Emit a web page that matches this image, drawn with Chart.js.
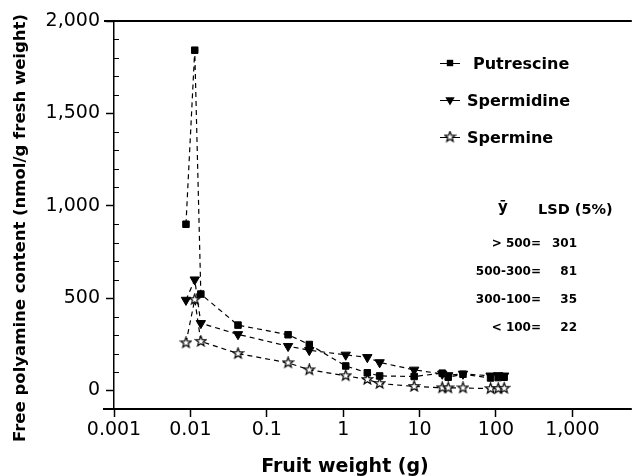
<!DOCTYPE html>
<html><head><meta charset="utf-8">
<script src="https://cdn.jsdelivr.net/npm/chart.js@4/dist/chart.umd.min.js"></script>
<style>html,body{margin:0;padding:0;background:#fff}</style>
</head><body>
<canvas id="c" width="639" height="476" style="width:639px;height:476px;display:block"></canvas>
<script>
// ---- data ----
const fruitWeight = [0.00875, 0.0114, 0.0137, 0.042, 0.19, 0.36, 1.08, 2.07, 3.0, 8.5, 19.8, 23.7, 37, 85, 107, 128];
const putrescine  = [900, 1842, 522, 354, 302, 249, 133, 96, 79, 76, 94, 72, 88, 68, 70, 72];
const spermidine  = [490, 600, 364, 304, 240, 218, 193, 180, 152, 112, 90, 82, 90, 80, 82, 80];
const spermine    = [258, 492, 266, 200, 150, 112, 80, 60, 38, 22, 15, 14, 14, 10, 10, 12];
const seriesNames = ['Putrescine', 'Spermidine', 'Spermine'];
const xTickValues = [0.001, 0.01, 0.1, 1, 10, 100, 1000];
const xTickLabels = ['0.001', '0.01', '0.1', '1', '10', '100', '1,000'];
const yTickValues = [0, 500, 1000, 1500, 2000];
const yTickLabels = ['0', '500', '1,000', '1,500', '2,000'];
const lsdHeader = ['ȳ', 'LSD (5%)'];
const lsdRanges = ['> 500=', '500-300=', '300-100=', '< 100='];
const lsdValues = ['301', '81', '35', '22'];
const xTitle = 'Fruit weight (g)';
const yTitle = 'Free polyamine content (nmol/g fresh weight)';

const FONT = "'DejaVu Sans', sans-serif";

// open five-point star marker
function makeStar(size) {
  const c = document.createElement('canvas');
  c.width = size; c.height = size;
  const g = c.getContext('2d');
  const cx = size / 2, cy = size / 2, ro = size / 2 - 1, ri = ro * 0.42;
  g.beginPath();
  for (let i = 0; i < 10; i++) {
    const r = i % 2 ? ri : ro;
    const a = -Math.PI / 2 + i * Math.PI / 5;
    const px = cx + r * Math.cos(a), py = cy + r * Math.sin(a);
    i ? g.lineTo(px, py) : g.moveTo(px, py);
  }
  g.closePath();
  g.fillStyle = '#fff'; g.fill();
  g.lineWidth = 1.2; g.strokeStyle = '#000'; g.stroke();
  return c;
}
const starImg = makeStar(13);

const toXY = arr => arr.map((v, i) => ({ x: fruitWeight[i], y: v }));

const common = {
  borderColor: '#000', borderWidth: 1.2, borderDash: [5, 4], tension: 0,
  backgroundColor: '#000', pointBorderColor: '#000', showLine: true, fill: false
};
const datasets = [
  Object.assign({}, common, { label: seriesNames[0], data: toXY(putrescine), pointStyle: 'rect', pointRadius: 4.6, pointBackgroundColor: '#000', pointBorderWidth: 1 }),
  Object.assign({}, common, { label: seriesNames[1], data: toXY(spermidine), pointStyle: 'triangle', pointRotation: 180, pointRadius: 5.4, pointBackgroundColor: '#000', pointBorderWidth: 1 }),
  Object.assign({}, common, { label: seriesNames[2], data: toXY(spermine), pointStyle: starImg, pointRadius: 6 })
];

function drawMarker(ctx, i, x, y) {
  ctx.save();
  ctx.fillStyle = '#000'; ctx.strokeStyle = '#000'; ctx.lineWidth = 1;
  if (i === 0) {
    ctx.fillRect(x - 3.2, y - 3.2, 6.4, 6.4);
  } else if (i === 1) {
    const r = 5.4;
    ctx.beginPath();
    ctx.moveTo(x, y + r);
    ctx.lineTo(x - r * 0.866, y - r * 0.5);
    ctx.lineTo(x + r * 0.866, y - r * 0.5);
    ctx.closePath(); ctx.fill();
  } else {
    ctx.drawImage(starImg, x - starImg.width / 2, y - starImg.height / 2);
  }
  ctx.restore();
}

const decor = {
  id: 'decor',
  afterDraw(chart) {
    const ctx = chart.ctx, a = chart.chartArea, ys = chart.scales.y;
    ctx.save();
    // frame lines top and bottom
    ctx.strokeStyle = '#000'; ctx.lineWidth = 2;
    ctx.beginPath();
    ctx.moveTo(a.left - 10, a.top); ctx.lineTo(a.right, a.top);
    ctx.moveTo(a.left - 11, a.bottom); ctx.lineTo(a.right, a.bottom);
    ctx.stroke();
    // inner minor ticks on y axis
    ctx.lineWidth = 1;
    ctx.beginPath();
    ys.ticks.forEach(t => {
      if (t.value <= ys.min || t.value >= ys.max || yTickValues.includes(t.value)) return;
      const py = Math.round(ys.getPixelForValue(t.value)) + 0.5;
      ctx.moveTo(a.left, py); ctx.lineTo(a.left + 5, py);
    });
    ctx.stroke();

    ctx.fillStyle = '#000';
    // legend
    const legY = [63, 100, 137];
    ctx.font = 'bold 16px ' + FONT;
    ctx.textAlign = 'left'; ctx.textBaseline = 'alphabetic';
    seriesNames.forEach((name, i) => {
      const y = legY[i];
      ctx.lineWidth = 1;
      ctx.beginPath(); ctx.moveTo(440, y + 0.5); ctx.lineTo(460, y + 0.5); ctx.stroke();
      drawMarker(ctx, i, 450, y);
      ctx.fillText(name, i === 0 ? 473 : 467, y + 6);
    });

    // LSD table
    ctx.font = 'bold 15px ' + FONT;
    ctx.textAlign = 'center';
    ctx.fillText(lsdHeader[0], 503, 212);
    ctx.font = 'bold 14.5px ' + FONT;
    ctx.textAlign = 'left';
    ctx.fillText(lsdHeader[1], 538, 214);
    ctx.font = 'bold 12px ' + FONT;
    const rowY = [243, 271, 299, 327];
    lsdRanges.forEach((r, i) => {
      ctx.textAlign = 'right';
      ctx.fillText(r, 541, rowY[i] + 4.4);
      ctx.fillText(lsdValues[i], 577, rowY[i] + 4.4);
    });

    // axis titles
    ctx.font = 'bold 19px ' + FONT;
    ctx.textAlign = 'center';
    ctx.fillText(xTitle, 345, 472);
    ctx.translate(25, 228);
    ctx.rotate(-Math.PI / 2);
    ctx.font = 'bold 16.5px ' + FONT;
    ctx.fillText(yTitle, 0, 0);
    ctx.restore();
  }
};

new Chart(document.getElementById('c'), {
  type: 'line',
  data: { datasets },
  plugins: [decor],
  options: {
    responsive: false, animation: false, devicePixelRatio: 1,
    layout: { padding: { top: 21, left: 0, right: 0, bottom: 0 } },
    plugins: { legend: { display: false }, tooltip: { enabled: false } },
    scales: {
      x: {
        type: 'logarithmic', min: 0.001, max: 6000,
        afterBuildTicks: s => { s.ticks = xTickValues.map(v => ({ value: v })); },
        afterFit: s => { s.height = 67; },
        ticks: {
          autoSkip: false, maxRotation: 0, minRotation: 0, padding: 2, color: '#000',
          font: { family: FONT, size: 19 },
          callback: (v, i) => xTickLabels[i]
        },
        grid: { drawOnChartArea: false, drawTicks: true, tickLength: 8, tickColor: '#000', tickWidth: 1.5 },
        border: { display: false }
      },
      y: {
        type: 'linear', min: -100, max: 2000,
        afterFit: s => { s.width = 114; },
        ticks: {
          stepSize: 100, autoSkip: false, padding: 6, color: '#000',
          font: { family: FONT, size: 19 },
          callback: v => { const i = yTickValues.indexOf(v); return i >= 0 ? yTickLabels[i] : ''; }
        },
        grid: {
          drawOnChartArea: false, drawTicks: true, tickLength: 8, tickWidth: 1.5,
          tickColor: c => (c.tick && yTickValues.includes(c.tick.value)) ? '#000' : 'rgba(0,0,0,0)'
        },
        border: { display: true, color: '#000', width: 1.5 }
      }
    }
  }
});
</script>
</body></html>
